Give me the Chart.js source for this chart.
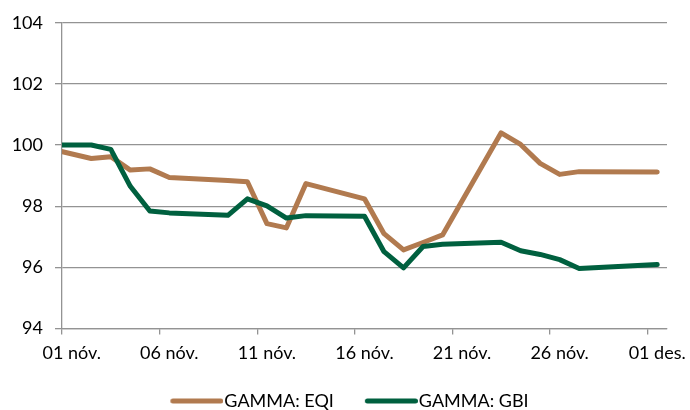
<!DOCTYPE html>
<html>
<head>
<meta charset="utf-8">
<script src="https://cdn.jsdelivr.net/npm/chart.js@4.4.1/dist/chart.umd.min.js"></script>
<style>
  html, body { margin: 0; padding: 0; background: #fff; }
</style>
</head>
<body>
<canvas id="myChart" width="690" height="410"></canvas>
<script>
// dates (dd.mm), 31.10 is the base day just before the axis starts
const dates = ["31.10", "02.11", "03.11", "04.11", "05.11", "06.11", "09.11", "10.11", "11.11", "12.11", "13.11",
               "16.11", "17.11", "18.11", "19.11", "20.11", "23.11", "24.11", "25.11", "26.11", "27.11", "01.12"];
const eqiValues = [99.86, 99.56, 99.62, 99.18, 99.22, 98.94, 98.84, 98.80, 97.43, 97.29, 98.74,
                   98.24, 97.10, 96.57, 96.81, 97.06, 100.40, 100.02, 99.40, 99.04, 99.13, 99.12];
const gbiValues = [100.00, 100.00, 99.86, 98.65, 97.84, 97.78, 97.70, 98.24, 98.01, 97.61, 97.69,
                   97.67, 96.51, 95.98, 96.68, 96.75, 96.82, 96.54, 96.42, 96.25, 95.96, 96.09];
const seriesNames = ["GAMMA: EQI", "GAMMA: GBI"];
const seriesColors = ["#B17A4F", "#00603F"];
const tickDays = [0, 5, 10, 15, 20, 25, 30];
const tickLabels = ["01 nóv.", "06 nóv.", "11 nóv.", "16 nóv.", "21 nóv.", "26 nóv.", "01 des."];

// day count from 01 nov, each day drawn in the middle of its slot
function dayPos(d) {
  const [dd, mm] = d.split(".").map(Number);
  const day = mm === 10 ? dd - 32 : mm === 11 ? dd - 1 : dd + 29;
  return day + 0.5;
}

function points(values) {
  return values.map((v, i) => ({ x: dayPos(dates[i]), y: v }));
}

// legend swatch: thick rounded line sitting right before the text
function swatch(color) {
  const c = document.createElement("canvas");
  c.width = 72;
  c.height = 6;
  const ctx = c.getContext("2d");
  ctx.strokeStyle = color;
  ctx.lineWidth = 5;
  ctx.lineCap = "round";
  ctx.beginPath();
  ctx.moveTo(21.5, 3);
  ctx.lineTo(69.5, 3);
  ctx.stroke();
  return c;
}

const font = { family: "Lato, 'Open Sans', sans-serif", size: 18 };
const gridColor = "#939393";

function lineSet(i, values, order) {
  return {
    label: seriesNames[i],
    data: points(values),
    borderColor: seriesColors[i],
    backgroundColor: seriesColors[i],
    borderWidth: 5,
    borderJoinStyle: "round",
    borderCapStyle: "round",
    pointRadius: 0,
    tension: 0,
    order: order,
    clip: { left: 0, right: false, top: false, bottom: false }
  };
}

// the legend takes 10px less room, so it sits closer to the bottom edge
const legendTight = {
  id: "legendTight",
  beforeLayout(chart) {
    const legend = chart.legend;
    if (!legend || legend._tight) return;
    const fit = legend.fit;
    legend.fit = function () {
      fit.call(this);
      this.height -= 10;
    };
    legend._tight = true;
  }
};

new Chart("myChart", {
  type: "line",
  data: {
    datasets: [lineSet(0, eqiValues, 1), lineSet(1, gbiValues, 0)]
  },
  plugins: [legendTight],
  options: {
    responsive: false,
    animation: false,
    layout: { padding: { left: 0, right: 2, top: 20, bottom: 0 } },
    scales: {
      x: {
        type: "linear",
        min: 0,
        max: 31,
        afterBuildTicks: (s) => { s.ticks = tickDays.map(v => ({ value: v })); },
        afterFit: (s) => { s.paddingRight = 23; },
        ticks: {
          font: font,
          color: "#000",
          padding: 8,
          labelOffset: 9.7,
          maxRotation: 0,
          autoSkip: false,
          callback: (value, index) => tickLabels[index]
        },
        grid: { drawOnChartArea: false, drawTicks: true, tickLength: 6, color: gridColor, lineWidth: 1.3 },
        border: { color: gridColor, width: 1.3 }
      },
      y: {
        min: 94,
        max: 104,
        afterFit: (s) => { s.width = 62; },
        ticks: { stepSize: 2, font: font, color: "#000", padding: 12 },
        grid: { color: gridColor, lineWidth: 1.3, tickLength: 7 },
        border: { color: gridColor, width: 1.3 }
      }
    },
    plugins: {
      legend: {
        position: "bottom",
        labels: {
          font: font,
          color: "#000",
          padding: 20,
          usePointStyle: true,
          pointStyleWidth: 56,
          sort: (a, b) => a.datasetIndex - b.datasetIndex,
          generateLabels: (chart) => Chart.defaults.plugins.legend.labels.generateLabels(chart)
            .map(item => Object.assign(item, { pointStyle: swatch(seriesColors[item.datasetIndex]) }))
        }
      },
      tooltip: { enabled: false }
    }
  }
});
</script>
</body>
</html>
